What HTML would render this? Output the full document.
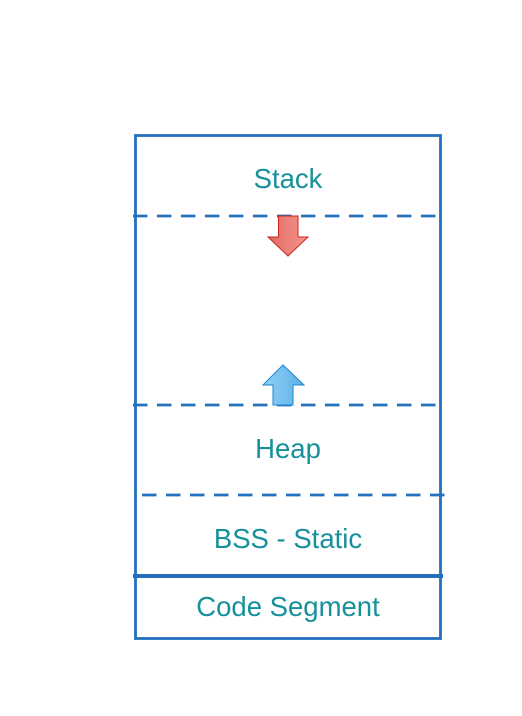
<!DOCTYPE html>
<html><head><style>body{margin:0;background:#fff}</style></head><body>
<svg width="522" height="711" xmlns="http://www.w3.org/2000/svg">
<defs>
<linearGradient id="r" x1="0" x2="1"><stop offset="0" stop-color="#e06a62"/><stop offset="1" stop-color="#f7968c"/></linearGradient>
<linearGradient id="b" x1="0" x2="1"><stop offset="0" stop-color="#8fd0f7"/><stop offset="1" stop-color="#5eb1e6"/></linearGradient>
</defs>
<rect x="135.5" y="135.5" width="305" height="503" fill="none" stroke="#2370bd" stroke-width="2.8"/>
<g stroke="#2370bd" stroke-width="2.8" stroke-dasharray="14.5 9.5">
<line x1="133" y1="216" x2="441" y2="216"/>
<line x1="133" y1="405" x2="441" y2="405"/>
<line x1="142" y1="495" x2="446" y2="495"/>
</g>
<line x1="133" y1="576" x2="443" y2="576" stroke="#2370bd" stroke-width="4"/>
<polygon points="278.5,216 298,216 298,237 308,237 288,256 268,237 278.5,237" fill="url(#r)" stroke="#c8251b" stroke-width="1"/>
<polygon points="283,365 304,385 293,385 293,405 273,405 273,385 263,385" fill="url(#b)" stroke="#1a86d0" stroke-width="1"/>
<g font-family="Liberation Sans, sans-serif" font-size="27.5" fill="#16909b" text-anchor="middle">
<text x="288" y="188">Stack</text>
<text x="288" y="458">Heap</text>
<text x="288" y="548">BSS - Static</text>
<text x="288" y="616">Code Segment</text>
</g>
</svg>
</body></html>
